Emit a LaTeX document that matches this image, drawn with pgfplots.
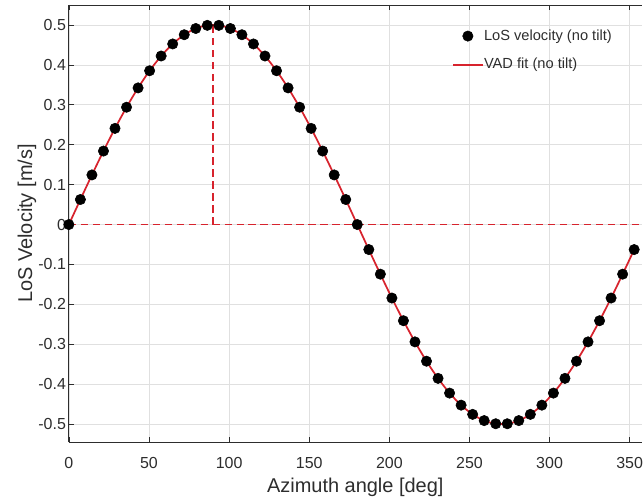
\documentclass[border=0pt]{standalone}
\usepackage{fontspec}
\setmainfont{Liberation Sans}
\usepackage{pgfplots}
\usepackage{pgfplotstable}
\pgfplotsset{compat=1.18}

\definecolor{fitred}{RGB}{215,35,45}
\definecolor{axgray}{RGB}{45,45,45}

% azimuth [deg], LoS velocity [m/s]
\pgfplotstableread{
az v
0.0 0
7.2 0.0627
14.4 0.1243
21.6 0.1841
28.8 0.2409
36.0 0.2939
43.2 0.3423
50.4 0.3853
57.6 0.4222
64.8 0.4524
72.0 0.4755
79.2 0.4911
86.4 0.4990
93.6 0.4990
100.8 0.4911
108.0 0.4755
115.2 0.4524
122.4 0.4222
129.6 0.3853
136.8 0.3423
144.0 0.2939
151.2 0.2409
158.4 0.1841
165.6 0.1243
172.8 0.0627
180.0 0
187.2 -0.0627
194.4 -0.1243
201.6 -0.1841
208.8 -0.2409
216.0 -0.2939
223.2 -0.3423
230.4 -0.3853
237.6 -0.4222
244.8 -0.4524
252.0 -0.4755
259.2 -0.4911
266.4 -0.4990
273.6 -0.4990
280.8 -0.4911
288.0 -0.4755
295.2 -0.4524
302.4 -0.4222
309.6 -0.3853
316.8 -0.3423
324.0 -0.2939
331.2 -0.2409
338.4 -0.1841
345.6 -0.1243
352.8 -0.0627
}\vaddata

\begin{document}
\begin{tikzpicture}
\begin{axis}[
  scale only axis,
  width=430.5pt, height=328.5pt,
  xmin=0, xmax=357.5,
  ymin=-0.545, ymax=0.55,
  axis x line=box, axis y line=left,
  axis line style={-, draw=axgray, line width=0.6pt},
  tick align=inside,
  major tick length=4pt,
  tick style={axgray, line width=0.5pt},
  xtick={0,50,100,150,200,250,300,350},
  ytick={-0.5,-0.4,-0.3,-0.2,-0.1,0,0.1,0.2,0.3,0.4,0.5},
  yticklabels={-0.5,-0.4,-0.3,-0.2,-0.1,0,0.1,0.2,0.3,0.4,0.5},
  /pgf/number format/assume math mode=true,
  ticklabel style={font=\fontsize{12}{14}\selectfont, text=axgray},
  yticklabel style={inner xsep=2pt},
  xticklabel style={yshift=-8pt, inner xsep=0pt},
  grid=major,
  major grid style={black!12, line width=0.5pt},
  xlabel={Azimuth angle [deg]},
  ylabel={LoS Velocity [m/s]},
  ylabel shift={-4pt},
  label style={font=\fontsize{15}{17}\selectfont, text=axgray},
  legend style={
    at={(rel axis cs:0.669,0.95)}, anchor=north west,
    draw=none, fill=none,
    inner xsep=0pt, inner ysep=0pt,
    row sep=8pt,
    font=\fontsize{11}{13}\selectfont,
    text=axgray,
    nodes={inner xsep=0.5pt},
  },
  legend cell align=left,
  legend image code/.code={
    \draw[mark repeat=2,mark phase=2,#1] plot coordinates {(0pt,0pt) (11pt,0pt) (22pt,0pt)};
  },
]
\addplot[draw=fitred, color=fitred, line width=1.2pt, dash pattern=on 5.5pt off 3.5pt, forget plot]
  coordinates {(0,0) (360,0)};
\addplot[draw=fitred, color=fitred, line width=1.2pt, dash pattern=on 5.5pt off 3.5pt, forget plot]
  coordinates {(90,0) (90,0.5)};
\addplot[only marks, mark=*, mark size=3.9pt, black] table[x=az, y=v] {\vaddata};
\addlegendentry{LoS velocity (no tilt)}
\addplot[draw=fitred, color=fitred, line width=1.3pt, smooth, no marks] table[x=az, y=v] {\vaddata};
\addlegendentry{VAD fit (no tilt)}
\end{axis}
\path ([yshift=3.75pt]current axis.north east);
\path (current axis.origin) ++(-51.75pt,0);
\end{tikzpicture}
\end{document}
